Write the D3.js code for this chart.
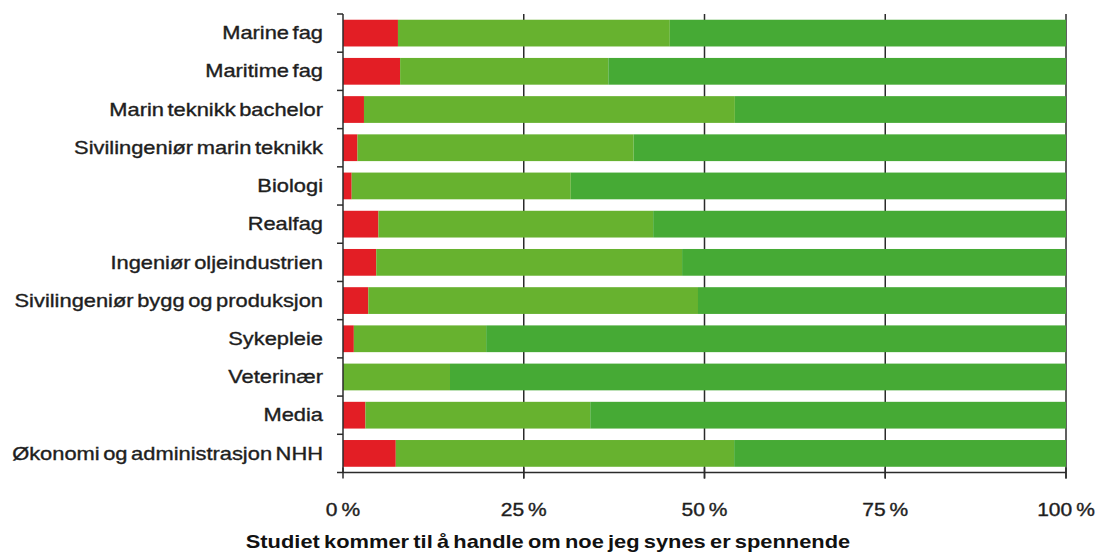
<!DOCTYPE html>
<html>
<head>
<meta charset="utf-8">
<script src="https://cdn.jsdelivr.net/npm/d3@7"></script>
<style>
  html, body { margin: 0; padding: 0; background: #fff; }
  svg { display: block; }
</style>
</head>
<body>
<svg id="chart" width="1096" height="554"></svg>
<script>
// Study programmes (top to bottom)
const categories = [
  "Marine fag",
  "Maritime fag",
  "Marin teknikk bachelor",
  "Sivilingeniør marin teknikk",
  "Biologi",
  "Realfag",
  "Ingeniør oljeindustrien",
  "Sivilingeniør bygg og produksjon",
  "Sykepleie",
  "Veterinær",
  "Media",
  "Økonomi og administrasjon NHH"
];

// Share of answers (%) per programme: disagree / partly agree / agree
const disagree     = [7.6, 7.9, 2.9, 2.0, 1.2, 4.9, 4.6, 3.5, 1.5, 0.0, 3.1, 7.3];
const partlyAgree  = [37.6, 28.8, 51.3, 38.2, 30.3, 38.0, 42.3, 45.6, 18.3, 14.8, 31.1, 46.8];
const agree        = [54.8, 63.3, 45.8, 59.8, 68.5, 57.1, 53.1, 50.9, 80.2, 85.2, 65.8, 45.9];

const seriesKeys   = ["disagree", "partlyAgree", "agree"];
const seriesColors = ["#e31e25", "#67b22f", "#46aa35"];

const tickValues = [0, 25, 50, 75, 100];
const axisTitle  = "Studiet kommer til å handle om noe jeg synes er spennende";

// Build rows for the stack layout
const rows = categories.map((c, i) => ({
  category: c,
  disagree: disagree[i],
  partlyAgree: partlyAgree[i],
  agree: agree[i]
}));

const svg = d3.select("#chart");
const plotLeft = 343, plotRight = 1066, plotTop = 14, plotBottom = 472.5;

const x = d3.scaleLinear().domain([0, 100]).range([plotLeft, plotRight]);
const y = d3.scaleBand().domain(categories).range([plotTop, plotBottom])
  .paddingInner(0.3).paddingOuter(0.15);

const ink = "#2b2b2b";
const labelFont = "'Liberation Sans', Arial, Helvetica, sans-serif";
const stretch = 1.25;

// Vertical gridlines behind the bars
svg.append("g").selectAll("line")
  .data(tickValues.slice(1))
  .join("line")
  .attr("x1", d => x(d)).attr("x2", d => x(d))
  .attr("y1", plotTop).attr("y2", plotBottom + 6)
  .attr("stroke", ink).attr("stroke-width", 1.5);

// Stacked bars
const stacked = d3.stack().keys(seriesKeys)(rows);
svg.append("g").selectAll("g")
  .data(stacked)
  .join("g")
  .attr("fill", (d, i) => seriesColors[i])
  .selectAll("rect")
  .data(d => d)
  .join("rect")
  .attr("x", d => x(d[0]))
  .attr("width", d => Math.max(0, x(d[1]) - x(d[0])))
  .attr("y", d => y(d.data.category))
  .attr("height", y.bandwidth());

// Y axis line with ticks on the band boundaries
const step = y.step();
const boundaries = d3.range(categories.length + 1).map(i => plotTop + i * step);
svg.append("line")
  .attr("x1", plotLeft).attr("x2", plotLeft)
  .attr("y1", plotTop).attr("y2", plotBottom)
  .attr("stroke", ink).attr("stroke-width", 1.5);
svg.append("g").selectAll("line")
  .data(boundaries)
  .join("line")
  .attr("x1", plotLeft - 6).attr("x2", plotLeft)
  .attr("y1", d => d).attr("y2", d => d)
  .attr("stroke", ink).attr("stroke-width", 1.5);

// X axis line and ticks
svg.append("line")
  .attr("x1", plotLeft).attr("x2", plotRight)
  .attr("y1", plotBottom).attr("y2", plotBottom)
  .attr("stroke", ink).attr("stroke-width", 1.5);
svg.append("g").selectAll("line")
  .data(tickValues)
  .join("line")
  .attr("x1", d => x(d)).attr("x2", d => x(d))
  .attr("y1", plotBottom - 5).attr("y2", plotBottom + 6)
  .attr("stroke", ink).attr("stroke-width", 1.5);

// Category labels
svg.append("g").selectAll("text")
  .data(categories)
  .join("text")
  .attr("transform", d => `translate(${plotLeft - 20},${y(d) + y.bandwidth() / 2}) scale(${stretch},1)`)
  .attr("text-anchor", "end")
  .attr("dominant-baseline", "central")
  .attr("font-family", labelFont)
  .attr("font-size", 17.5)
  .attr("word-spacing", -2)
  .attr("fill", "#1e1e1e")
  .attr("stroke", "#1e1e1e")
  .attr("stroke-width", 0.35)
  .text(d => d);

// Tick labels
svg.append("g").selectAll("text")
  .data(tickValues)
  .join("text")
  .attr("transform", d => `translate(${x(d)},516) scale(1.2,1)`)
  .attr("text-anchor", "middle")
  .attr("font-family", labelFont)
  .attr("font-size", 17.5)
  .attr("word-spacing", -1.5)
  .attr("fill", "#1e1e1e")
  .attr("stroke", "#1e1e1e")
  .attr("stroke-width", 0.35)
  .text(d => `${d} %`);

// Axis title
svg.append("text")
  .attr("transform", `translate(548,548) scale(1.25,1)`)
  .attr("text-anchor", "middle")
  .attr("font-family", labelFont)
  .attr("font-weight", "bold")
  .attr("font-size", 17.5)
  .attr("word-spacing", -1.5)
  .attr("fill", "#111")
  .text(axisTitle);
</script>
</body>
</html>
